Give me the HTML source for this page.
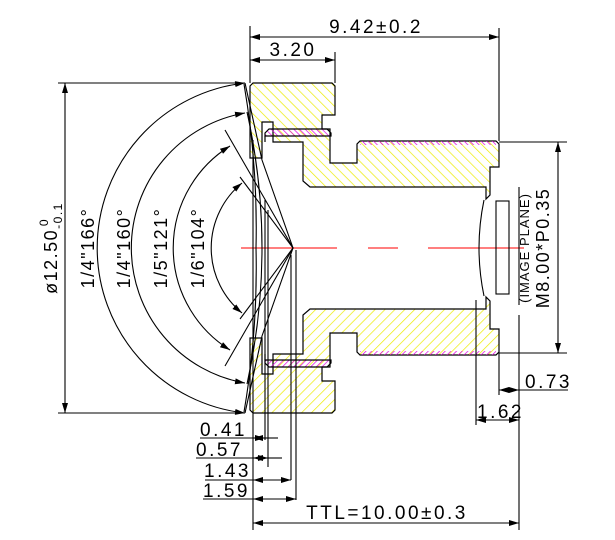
<!DOCTYPE html>
<html><head><meta charset="utf-8"><style>
html,body{margin:0;padding:0;background:#fff;}
svg{display:block;}
text{font-family:"Liberation Sans",sans-serif;font-size:19px;fill:#000;letter-spacing:2.5px;}
.r{font-size:18px;letter-spacing:1.5px;}
</style></head><body>
<svg width="615" height="540" viewBox="0 0 615 540" xmlns="http://www.w3.org/2000/svg">
<defs>
<pattern id="hy" width="7" height="7" patternUnits="userSpaceOnUse" patternTransform="rotate(-45)">
<line x1="0" y1="0" x2="0" y2="7" stroke="#ecec00" stroke-width="1.4"/></pattern>
<pattern id="hm" width="4" height="4" patternUnits="userSpaceOnUse" patternTransform="rotate(-45)">
<line x1="0" y1="0" x2="0" y2="4" stroke="#e000e0" stroke-width="1.4"/></pattern>
<marker id="a" markerWidth="10" markerHeight="6" refX="10" refY="3" orient="auto-start-reverse" markerUnits="userSpaceOnUse">
<path d="M0,0 L10,3 L0,6 Z" fill="#000"/></marker>
<g id="half" stroke="#000" stroke-width="1.2">
<polygon fill="url(#hy)" points="250,86 253,83 332,83 335,86 335,115 322,115 322,129 330,129 330,163 357,163 357,144 360,141 496,141 499,144 499,167 490,167 490,195 486,199 486,187 310,187 303,181 303,142 273,142 273,122 262,122 262,158 250,158"/>
<polygon fill="url(#hm)" points="265,133 269,129 327,129 331,133 331,136 265,136"/>
<rect x="360" y="141" width="136" height="4" fill="url(#hm)" stroke="none"/>
<line x1="265" y1="136" x2="265" y2="142"/>
</g>
</defs>
<use href="#half"/>
<use href="#half" transform="translate(0,496) scale(1,-1)"/>
<g stroke="#ff5555" stroke-width="1.5">
<line x1="241" y1="248" x2="337" y2="248"/><line x1="368" y1="248" x2="398" y2="248"/><line x1="428" y1="248" x2="524" y2="248"/>
</g>
<g stroke="#000" stroke-width="1.1" fill="none">
<path d="M244,84 Q258,166 256,248 Q258,330 244,412"/>
<path d="M247,112 Q262,180 262,248 Q262,316 247,384"/>
<path d="M484,200 Q474,248 484,296"/>
<line x1="253" y1="140" x2="253" y2="530"/>
<line x1="265" y1="200" x2="265" y2="440"/>
<line x1="268" y1="210" x2="268" y2="467"/>
<line x1="291" y1="255" x2="291" y2="480"/>
<line x1="296" y1="250" x2="296" y2="500"/>
<polyline points="225,130 293,248 225,366"/>
<polyline points="240,177 293,248 240,319"/>
<polyline points="245,83 262,160 293,248 262,336 245,413"/>
<path d="M245,83 A166,166 0 0 0 245,413" marker-start="url(#a)" marker-end="url(#a)"/>
<path d="M245,113 A137,137 0 0 0 245,383" marker-start="url(#a)" marker-end="url(#a)"/>
<path d="M230,146 A120,120 0 0 0 230,350" marker-start="url(#a)" marker-end="url(#a)"/>
<path d="M242,183 A84,84 0 0 0 242,313" marker-start="url(#a)" marker-end="url(#a)"/>
<rect x="496" y="201" width="13" height="93"/>
<line x1="519" y1="187" x2="519" y2="305"/>
<line x1="519" y1="315" x2="519" y2="425"/>
<line x1="250" y1="26" x2="250" y2="83"/>
<line x1="499" y1="28" x2="499" y2="141"/>
<line x1="250" y1="37" x2="499" y2="37" marker-start="url(#a)" marker-end="url(#a)"/>
<line x1="335" y1="52" x2="335" y2="83"/>
<line x1="250" y1="60" x2="335" y2="60" marker-start="url(#a)" marker-end="url(#a)"/>
<line x1="499" y1="142" x2="567" y2="142"/>
<line x1="499" y1="353" x2="567" y2="353"/>
<line x1="558" y1="142" x2="558" y2="353" marker-start="url(#a)" marker-end="url(#a)"/>
<line x1="499" y1="353" x2="499" y2="395"/>
<line x1="499" y1="390" x2="519" y2="390" marker-start="url(#a)" marker-end="url(#a)"/>
<line x1="519" y1="390" x2="568" y2="390"/>
<line x1="476" y1="300" x2="476" y2="425"/>
<line x1="476" y1="420" x2="519" y2="420" marker-start="url(#a)" marker-end="url(#a)"/>
<line x1="58" y1="83" x2="245" y2="83"/>
<line x1="58" y1="413" x2="245" y2="413"/>
<line x1="65" y1="83" x2="65" y2="413" marker-start="url(#a)" marker-end="url(#a)"/>
<line x1="200" y1="438" x2="253" y2="438"/><line x1="253" y1="438" x2="265" y2="438" marker-start="url(#a)" marker-end="url(#a)"/><line x1="265" y1="438" x2="278" y2="438"/>
<line x1="196" y1="458" x2="253" y2="458"/><line x1="253" y1="458" x2="268" y2="458" marker-start="url(#a)" marker-end="url(#a)"/><line x1="268" y1="458" x2="282" y2="458"/>
<line x1="205" y1="480" x2="253" y2="480"/><line x1="253" y1="480" x2="291" y2="480" marker-start="url(#a)" marker-end="url(#a)"/>
<line x1="203" y1="499" x2="253" y2="499"/><line x1="253" y1="499" x2="296" y2="499" marker-start="url(#a)" marker-end="url(#a)"/>
<line x1="519" y1="425" x2="519" y2="530"/>
<line x1="253" y1="523" x2="519" y2="523" marker-start="url(#a)" marker-end="url(#a)"/>
</g>
<text x="376" y="33" text-anchor="middle">9.42±0.2</text>
<text x="293" y="56" text-anchor="middle">3.20</text>
<text x="387" y="519" text-anchor="middle">TTL=10.00±0.3</text>
<text x="200" y="436">0.41</text>
<text x="196" y="456">0.57</text>
<text x="204" y="477">1.43</text>
<text x="203" y="497">1.59</text>
<text x="525" y="388">0.73</text>
<text x="477" y="418">1.62</text>
<text class="r" transform="translate(549,248) rotate(-90)" text-anchor="middle">M8.00*P0.35</text>
<text transform="translate(529,248) rotate(-90)" text-anchor="middle" style="font-size:13px;letter-spacing:1px">(IMAGE  PLANE)</text>
<text class="r" transform="translate(57,248) rotate(-90)" text-anchor="middle">ø12.50<tspan dy="5" font-size="12">-0.1</tspan><tspan dx="-24" dy="-14" font-size="12">0</tspan></text>
<text class="r" transform="translate(94,248) rotate(-90)" text-anchor="middle">1/4"166°</text>
<text class="r" transform="translate(130,248) rotate(-90)" text-anchor="middle">1/4"160°</text>
<text class="r" transform="translate(167,248) rotate(-90)" text-anchor="middle">1/5"121°</text>
<text class="r" transform="translate(204,248) rotate(-90)" text-anchor="middle">1/6"104°</text>
</svg>
</body></html>
